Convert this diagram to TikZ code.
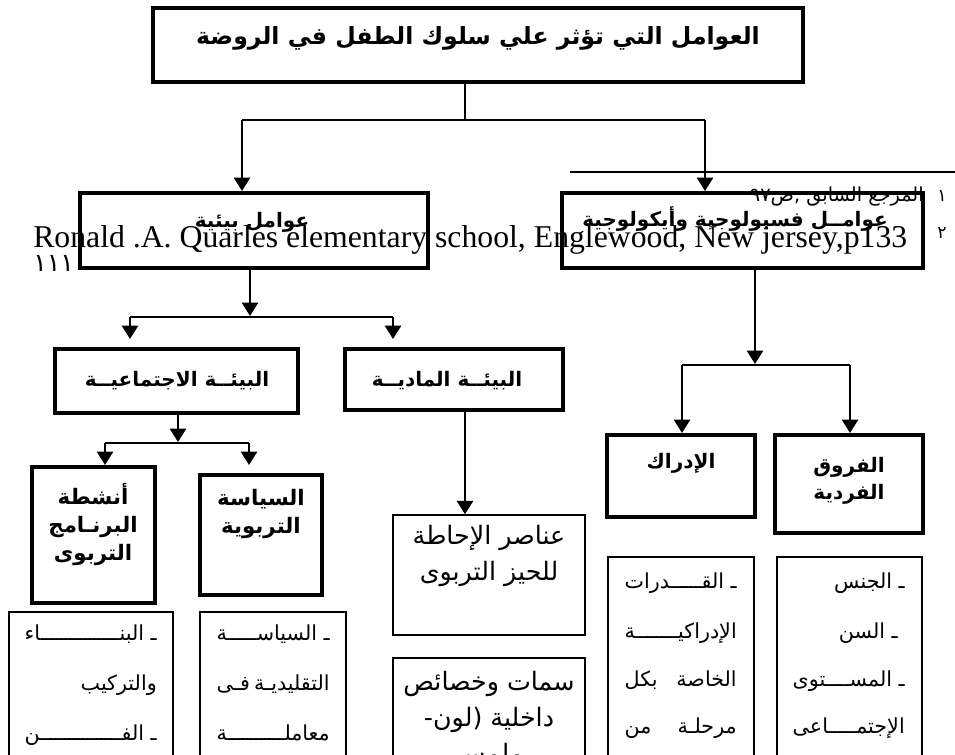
\documentclass[tikz,border=0pt]{standalone}
\usepackage{fontspec}
\setmainfont{Liberation Serif}
\newfontfamily\arabicfont[Script=Arabic]{DejaVu Sans}
\TeXXeTstate=1
\usetikzlibrary{arrows.meta,fit}
\newcommand{\artxt}[1]{\beginR #1\endR}
% stretchable kashida (tatweel) filler
\newcommand{\kfill}{\xleaders\hbox{\kern-0.6pt ـ\kern-0.6pt}\hfill}
\tikzset{
  thickbox/.style={draw, line width=3pt, inner sep=0pt},
  thinbox/.style={draw, line width=1.1pt, inner sep=0pt},
  conn/.style={line width=1.8pt},
  arr/.style={line width=1.8pt, -{Triangle[width=12pt,length=10pt]}},
  btxt/.style={font=\arabicfont\bfseries\fontsize{15}{20.5}\selectfont, inner sep=0pt, align=center},
  ttxt/.style={font=\arabicfont\bfseries\fontsize{17.7}{20}\selectfont, inner sep=0pt},
  ltxt/.style={font=\arabicfont\fontsize{15.5}{20}\selectfont, inner sep=0pt, anchor=mid east},
  ctxt/.style={font=\arabicfont\fontsize{19}{27.3}\selectfont, inner sep=0pt, align=center},
  ftxt/.style={font=\arabicfont\fontsize{14.5}{16}\selectfont, inner sep=0pt},
  stxt/.style={font=\fontsize{23.8}{26}\selectfont, inner sep=0pt},
}
\begin{document}
\begin{tikzpicture}[x=0.75pt,y=-0.75pt]
\useasboundingbox (0,0) rectangle (955,754);
\clip (0,0) rectangle (955,754);
% footnotes (behind the boxes)
\coordinate (fl) at (570,172);
\coordinate (fr) at (955,172);
\draw[line width=1.3pt] (fl) -- (fr);
\node[ftxt, font=\arabicfont\fontsize{13}{14}\selectfont] (fn1num) at (942,196) {\beginR ١\endR};
\node[ftxt, anchor=mid east] (fn1) at (924,198) {\beginR المرجع السابق ,ص٩٧\endR};
\node[ftxt, font=\arabicfont\fontsize{13}{14}\selectfont] (fn2num) at (942,233) {\beginR ٢\endR};
\node[stxt, anchor=base west] (fn2) at (33,247) {Ronald .A. Quarles elementary school, Englewood, New jersey,p133};
\node[ftxt, font=\arabicfont\fontsize{19}{20}\selectfont, anchor=base west] (fn3) at (33,271) {\beginR ١١١\endR};
% thick boxes
\node[thickbox, fit={(153,8) (803,82)}] (title) {};
\node[ttxt] (titlet) at (478,38) {\beginR العوامل التي تؤثر علي سلوك الطفل في الروضة\endR};
\node[thickbox, fit={(80,193) (428,268)}] (env) {};
\node[btxt] (envt) at (252,222) {\beginR عوامل بيئية\endR};
\node[thickbox, fit={(562,193) (923,268)}] (bio) {};
\node[btxt] (biot) at (735,219) {\beginR عوامــل فسيولوجية وأيكولوجية\endR};
\node[thickbox, fit={(55,349) (298,413)}] (soc) {};
\node[btxt] (soct) at (177,381) {\beginR البيئــة الاجتماعيــة\endR};
\node[thickbox, fit={(345,349) (563,410)}] (phy) {};
\node[btxt] (phyt) at (447,381) {\beginR البيئــة الماديــة\endR};
\node[thickbox, fit={(32,467) (155,603)}] (act) {};
\node[btxt, font=\arabicfont\bfseries\fontsize{16}{21}\selectfont] (actt) at (93,524) {\beginR أنشطة\endR\\\beginR البرنـامج\endR\\\beginR التربوى\endR};
\node[thickbox, fit={(200,475) (322,595)}] (pol) {};
\node[btxt, font=\arabicfont\bfseries\fontsize{16}{21}\selectfont] (polt) at (261,514) {\beginR السياسة\endR\\\beginR التربوية\endR};
\node[thickbox, fit={(607,435) (755,517)}] (per) {};
\node[btxt] (pert) at (681,463) {\beginR الإدراك\endR};
\node[thickbox, fit={(775,435) (923,533)}] (ind) {};
\node[btxt] (indt) at (849,481) {\beginR الفروق\endR\\\beginR الفردية\endR};
% thin boxes
\node[thinbox, fit={(9,612) (173,775)}] (actl) {};
\node[thinbox, fit={(200,612) (346,775)}] (poll) {};
\node[thinbox, fit={(393,515) (585,635)}] (el1) {};
\node[thinbox, fit={(393,658) (585,775)}] (el2) {};
\node[thinbox, fit={(608,557) (754,775)}] (perl) {};
\node[thinbox, fit={(777,557) (922,775)}] (indl) {};
% list texts
\node[ltxt] (a1) at (157,637) {\hbox to 99pt{\beginR ـ البنـ\kfill ـاء\endR}};
\node[ltxt] (a2) at (157,687) {\beginR والتركيب\endR};
\node[ltxt] (a3) at (157,737) {\hbox to 99pt{\beginR ـ الفـ\kfill ـن\endR}};
\node[ltxt] (p1) at (330,637) {\hbox to 84.75pt{\beginR ـ السياسـ\kfill ـة\endR}};
\node[ltxt] (p2) at (330,687) {\hbox to 84.75pt{\beginR التقليديـة\hfill فـى\endR}};
\node[ltxt] (p3) at (330,737) {\hbox to 84.75pt{\beginR معاملـ\kfill ـة\endR}};
\node[ctxt] (e1) at (489,556) {\beginR عناصر الإحاطة\endR\\\beginR للحيز التربوى\endR};
\node[ctxt] (e2) at (489,720) {\beginR سمات وخصائص\endR\\\beginR داخلية (لون-\endR\\\beginR ملمس\endR};
\node[ltxt] (r1) at (737,585) {\hbox to 84pt{\beginR ـ القـ\kfill ـدرات\endR}};
\node[ltxt] (r2) at (737,635) {\hbox to 84pt{\beginR الإدراكيـ\kfill ـة\endR}};
\node[ltxt] (r3) at (737,683) {\hbox to 84pt{\beginR الخاصة\hfill بكل\endR}};
\node[ltxt] (r4) at (737,730) {\hbox to 84pt{\beginR مرحلـة\hfill من\endR}};
\node[ltxt] (i1) at (905,585) {\beginR ـ الجنس\endR};
\node[ltxt] (i2) at (898,635) {\beginR ـ السن\endR};
\node[ltxt] (i3) at (905,683) {\hbox to 84pt{\beginR ـ المسـ\kfill ـتوى\endR}};
\node[ltxt] (i4) at (905,730) {\hbox to 84pt{\beginR الإجتمـ\kfill ـاعى\endR}};
% connectors
\coordinate (j1) at (465,120);
\coordinate (jL) at (242,120);
\coordinate (jR) at (705,120);
\draw[conn] (title.south -| j1) -- (j1);
\draw[conn] (jL) -- (jR);
\draw[arr] (jL) -- (jL |- env.north);
\draw[arr] (jR) -- (jR |- bio.north);
\coordinate (j2) at (250,316);
\coordinate (j2L) at (130,317);
\coordinate (j2R) at (393,317);
\draw[arr] (env.south -| j2) -- (j2);
\draw[conn] (j2L) -- (j2R);
\draw[arr, shorten >=6pt] (j2L) -- (j2L |- soc.north);
\draw[arr, shorten >=6pt] (j2R) -- (j2R |- phy.north);
\coordinate (j3) at (178,442);
\coordinate (j3L) at (105,443);
\coordinate (j3R) at (249,443);
\draw[arr] (soc.south -| j3) -- (j3);
\draw[conn] (j3L) -- (j3R);
\draw[arr] (j3L) -- (j3L |- act.north);
\draw[arr, shorten >=6pt] (j3R) -- (j3R |- pol.north);
\coordinate (x4) at (465,410);
\draw[arr] (x4 |- phy.south) -- (x4 |- el1.north);
\coordinate (j5) at (755,364);
\coordinate (j5L) at (682,365);
\coordinate (j5R) at (850,365);
\draw[arr] (bio.south -| j5) -- (j5);
\draw[conn] (j5L) -- (j5R);
\draw[arr] (j5L) -- (j5L |- per.north);
\draw[arr] (j5R) -- (j5R |- ind.north);
\end{tikzpicture}
\end{document}
